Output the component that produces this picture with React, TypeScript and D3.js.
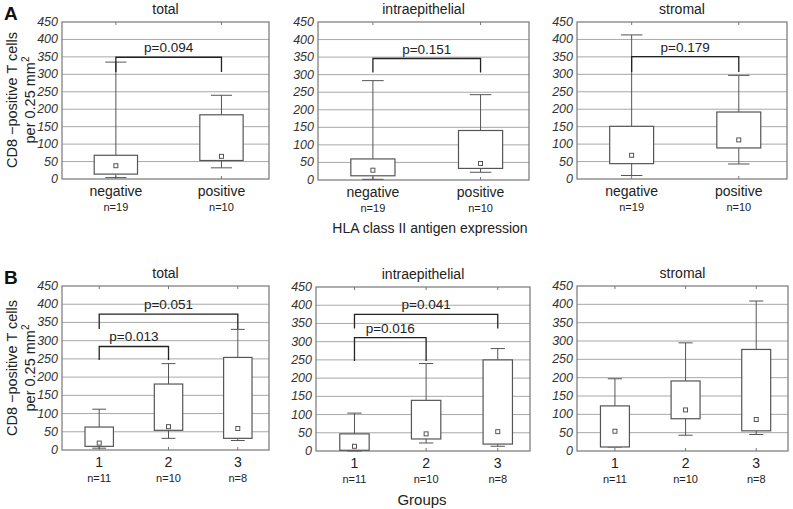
import React from "react";
import * as d3 from "d3";

const yTicks = [0, 50, 100, 150, 200, 250, 300, 350, 400, 450];
const hlaGroups = ["negative", "positive"];
const hlaCounts = ["n=19", "n=10"];
const classGroups = ["1", "2", "3"];
const classCounts = ["n=11", "n=10", "n=8"];

// box stats per group: [min, q1, median, q3, max]
const hlaTotal = [[4, 14, 38, 68, 335], [32, 53, 65, 184, 240]];
const hlaIntra = [[2, 12, 28, 60, 283], [22, 33, 47, 141, 243]];
const hlaStroma = [[10, 44, 68, 151, 413], [43, 89, 112, 192, 297]];
const classTotal = [[5, 10, 19, 63, 112], [32, 54, 64, 181, 237], [26, 32, 59, 254, 331]];
const classIntra = [[0, 2, 13, 47, 104], [22, 33, 47, 139, 240], [13, 19, 53, 250, 281]];
const classStroma = [[11, 11, 54, 123, 197], [43, 88, 112, 191, 295], [45, 55, 86, 277, 409]];

// significance brackets: [from, to, level, drop, label]
const hlaTotalP = [[0, 1, 349, 307, "p=0.094"]];
const hlaIntraP = [[0, 1, 346, 306, "p=0.151"]];
const hlaStromaP = [[0, 1, 351, 307, "p=0.179"]];
const classTotalP = [[0, 1, 284, 247, "p=0.013"], [0, 2, 373, 332, "p=0.051"]];
const classIntraP = [[0, 1, 311, 247, "p=0.016"], [0, 2, 375, 336, "p=0.041"]];

const font = "'Liberation Sans', Arial, sans-serif";

type PanelProps = {
  left: number;
  right: number;
  top: number;
  bottom: number;
  title: string;
  groups: string[];
  counts: string[];
  stats: number[][];
  brackets: (string | number)[][];
  domain: [number, number];
};

const Panel = (props: PanelProps) => {
  const y = d3.scaleLinear().domain([0, 450]).range([props.bottom, props.top]);
  const x = d3.scaleLinear().domain(props.domain).range([props.left, props.right]);
  const bw = x(0.41) - x(0);
  const cw = x(0.2) - x(0);
  const cx = (props.left + props.right) / 2;

  return (
    <g>
      <text x={cx} y={props.top - 8} textAnchor="middle" fontSize={14} fill="#222">
        {props.title}
      </text>
      {yTicks.map((t) => (
        <g key={t}>
          {t > 0 && t < 450 && (
            <line x1={props.left} x2={props.right} y1={y(t)} y2={y(t)} stroke="#a8a8a8" strokeWidth={1} />
          )}
          <text x={props.left - 4} y={y(t) + 4} textAnchor="end" fontSize={12.5} fontStyle="italic" fill="#333">
            {t}
          </text>
        </g>
      ))}
      <rect
        x={props.left}
        y={props.top}
        width={props.right - props.left}
        height={props.bottom - props.top}
        fill="none"
        stroke="#777"
        strokeWidth={1.2}
      />
      {props.groups.map((g, i) => {
        const px = x(i + 1);
        const [mn, q1, md, q3, mx] = props.stats[i];
        return (
          <g key={g}>
            <line x1={px} x2={px} y1={props.bottom} y2={props.bottom - 3} stroke="#777" />
            <line x1={px} x2={px} y1={props.top} y2={props.top + 3} stroke="#777" />
            <line x1={px} x2={px} y1={y(mx)} y2={y(q3)} stroke="#555" />
            <line x1={px} x2={px} y1={y(q1)} y2={y(mn)} stroke="#555" />
            <line x1={px - cw / 2} x2={px + cw / 2} y1={y(mx)} y2={y(mx)} stroke="#555" />
            <line x1={px - cw / 2} x2={px + cw / 2} y1={y(mn)} y2={y(mn)} stroke="#555" />
            <rect x={px - bw / 2} y={y(q3)} width={bw} height={y(q1) - y(q3)} fill="#fff" stroke="#555" strokeWidth={1.2} />
            <rect x={px - 2} y={y(md) - 2} width={4} height={4} fill="#fff" stroke="#444" strokeWidth={0.9} />
            <text x={px} y={props.bottom + 17} textAnchor="middle" fontSize={14} fill="#222">
              {g}
            </text>
            <text x={px} y={props.bottom + 32} textAnchor="middle" fontSize={11} fill="#222">
              {props.counts[i]}
            </text>
          </g>
        );
      })}
      {props.brackets.map((b) => {
        const [from, to, level, drop, label] = b as [number, number, number, number, string];
        const x1 = x(from + 1);
        const x2 = x(to + 1);
        return (
          <g key={label}>
            <path
              d={`M${x1},${y(drop)}V${y(level)}H${x2}V${y(drop)}`}
              fill="none"
              stroke="#222"
              strokeWidth={1.3}
            />
            <text x={(x1 + x2) / 2} y={y(level) - 5} textAnchor="middle" fontSize={13.5} fill="#222">
              {label}
            </text>
          </g>
        );
      })}
    </g>
  );
};

const YLabel = (props: { cy: number }) => (
  <g>
    <text transform={`translate(17,${props.cy}) rotate(-90)`} textAnchor="middle" fontSize={14.5} fill="#222">
      CD8 −positive T cells
    </text>
    <text transform={`translate(35,${props.cy}) rotate(-90)`} textAnchor="middle" fontSize={14.5} fill="#222">
      per 0.25 mm<tspan dy={-6} fontSize={10}>2</tspan>
    </text>
  </g>
);

const App = () => {
  const dA: [number, number] = [0.49, 2.45];
  const dB: [number, number] = [0.463, 3.45];
  return (
    <div style={{ position: "absolute", left: 0, top: 0 }}>
      <svg width={793} height={509} fontFamily={font} style={{ display: "block", background: "#fff" }}>
        <text x={4} y={20} fontSize={19} fontWeight="bold" fill="#111">A</text>
        <text x={4} y={284} fontSize={19} fontWeight="bold" fill="#111">B</text>
        <YLabel cy={100} />
        <YLabel cy={368} />
        <Panel left={62} right={269} top={22} bottom={179} title="total" groups={hlaGroups} counts={hlaCounts} stats={hlaTotal} brackets={hlaTotalP} domain={dA} />
        <Panel left={318} right={529} top={22} bottom={180} title="intraepithelial" groups={hlaGroups} counts={hlaCounts} stats={hlaIntra} brackets={hlaIntraP} domain={dA} />
        <Panel left={577} right={787} top={22} bottom={179} title="stromal" groups={hlaGroups} counts={hlaCounts} stats={hlaStroma} brackets={hlaStromaP} domain={dA} />
        <text x={430} y={233} textAnchor="middle" fontSize={14} fill="#222">HLA class II antigen expression</text>
        <Panel left={62} right={269} top={286} bottom={450} title="total" groups={classGroups} counts={classCounts} stats={classTotal} brackets={classTotalP} domain={dB} />
        <Panel left={316} right={530} top={287} bottom={451} title="intraepithelial" groups={classGroups} counts={classCounts} stats={classIntra} brackets={classIntraP} domain={dB} />
        <Panel left={577} right={788} top={286} bottom={451} title="stromal" groups={classGroups} counts={classCounts} stats={classStroma} brackets={[]} domain={dB} />
        <text x={422} y={505} textAnchor="middle" fontSize={15} fill="#222">Groups</text>
      </svg>
    </div>
  );
};

export default App;
